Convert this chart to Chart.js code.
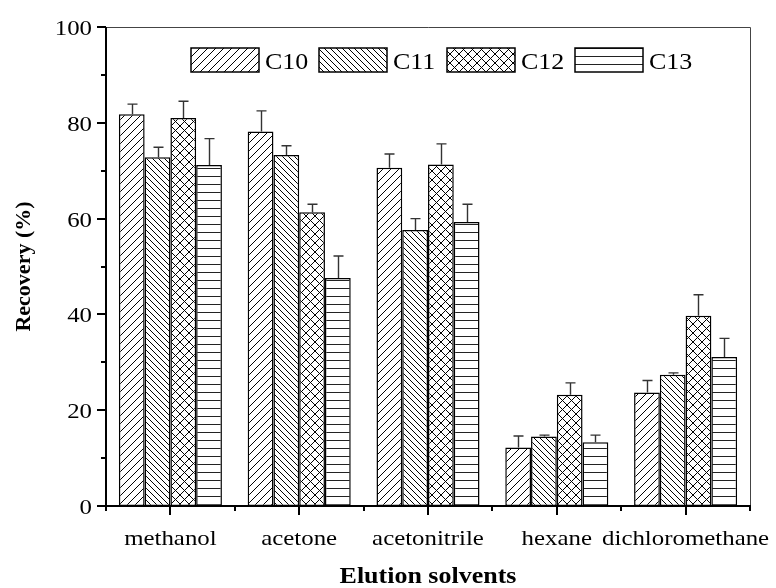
<!DOCTYPE html>
<html>
<head>
<meta charset="utf-8">
<script src="https://cdn.jsdelivr.net/npm/chart.js@4.4.1/dist/chart.umd.min.js"></script>
<style>
  html, body { margin: 0; padding: 0; background: #fff; }
  #wrap { width: 776px; height: 588px; }
</style>
</head>
<body>
<div id="wrap"><canvas id="recoveryChart" width="776" height="588"></canvas></div>
<script>
const solvents = ["methanol", "acetone", "acetonitrile", "hexane", "dichloromethane"];
const seriesNames = ["C10", "C11", "C12", "C13"];

// mean recovery (%) per solvent
const c10 = [81.8, 78.2, 70.6, 12.2, 23.7];
const c11 = [72.8, 73.3, 57.6, 14.5, 27.4];
const c12 = [81.0, 61.3, 71.3, 23.2, 39.7];
const c13 = [71.2, 47.6, 59.3, 13.3, 31.1];

// standard deviations (upper error bars only)
const c10Sd = [2.1, 4.3, 2.9, 2.4, 2.5];
const c11Sd = [2.1, 1.9, 2.4, 0.3, 0.4];
const c12Sd = [3.5, 1.7, 4.3, 2.5, 4.4];
const c13Sd = [5.5, 4.6, 3.7, 1.5, 3.9];

const yMin = 0, yMax = 100, yMajor = 20, yMinor = 10;

const FONT = "'Liberation Serif', 'Times New Roman', serif";
const STRETCH = 1.13; // text is a bit wider than it is tall

// hatch fills
function makePattern(kind) {
  const c = document.createElement("canvas");
  const s = kind === "back" ? 6 : kind === "cross" ? 9 : 8;
  c.width = s; c.height = s;
  const g = c.getContext("2d");
  g.fillStyle = "#fff";
  g.fillRect(0, 0, s, s);
  g.strokeStyle = "#000";
  g.lineWidth = 1;
  g.beginPath();
  if (kind === "fwd" || kind === "cross") {
    g.moveTo(-1, s + 1); g.lineTo(s + 1, -1);
    g.moveTo(-1, 1); g.lineTo(1, -1);
    g.moveTo(s - 1, s + 1); g.lineTo(s + 1, s - 1);
  }
  if (kind === "back" || kind === "cross") {
    g.moveTo(-1, -1); g.lineTo(s + 1, s + 1);
    g.moveTo(s - 1, -1); g.lineTo(s + 1, 1);
    g.moveTo(-1, s - 1); g.lineTo(1, s + 1);
  }
  if (kind === "horiz") {
    g.strokeStyle = "#222";
    g.moveTo(0, 0.5); g.lineTo(s, 0.5);
  }
  g.stroke();
  return g.createPattern(c, "repeat");
}

function wideText(g, text, x, y, align, font) {
  g.save();
  g.translate(x, y);
  g.scale(STRETCH, 1);
  g.font = font;
  g.textAlign = align;
  g.textBaseline = "alphabetic";
  g.fillStyle = "#000";
  g.fillText(text, 0, 0);
  g.restore();
}

const ctx = document.getElementById("recoveryChart");
const fills = [makePattern("fwd"), makePattern("back"), makePattern("cross"), makePattern("horiz")];
const values = [c10, c11, c12, c13];
const sds = [c10Sd, c11Sd, c12Sd, c13Sd];

// upper error bars with caps
const errorBars = {
  id: "errorBars",
  afterDatasetsDraw(chart) {
    const g = chart.ctx;
    const y = chart.scales.y;
    g.save();
    g.strokeStyle = "#333";
    g.lineWidth = 1.4;
    chart.data.datasets.forEach((ds, i) => {
      const meta = chart.getDatasetMeta(i);
      meta.data.forEach((bar, j) => {
        const top = y.getPixelForValue(ds.data[j] + sds[i][j]);
        const x = Math.round(bar.x) + 0.5;
        g.beginPath();
        g.moveTo(x, bar.y);
        g.lineTo(x, top);
        g.moveTo(x - 5, top);
        g.lineTo(x + 5, top);
        g.stroke();
      });
    });
    g.restore();
  }
};

// frame, tick marks, tick labels, x title and the in-plot legend
const frame = {
  id: "frame",
  afterDraw(chart) {
    const g = chart.ctx;
    const a = chart.chartArea;
    const xs = chart.scales.x, ys = chart.scales.y;
    g.save();
    g.strokeStyle = "#444";
    g.lineWidth = 1;
    g.beginPath();
    g.moveTo(a.left, a.top + 0.5); g.lineTo(a.right + 0.5, a.top + 0.5);
    g.lineTo(a.right + 0.5, a.bottom);
    g.stroke();

    g.strokeStyle = "#000";
    g.lineWidth = 2;
    g.beginPath();
    g.moveTo(a.left, a.top); g.lineTo(a.left, a.bottom); g.lineTo(a.right + 1, a.bottom);
    // y ticks
    for (let v = yMin; v <= yMax; v += yMinor) {
      const py = Math.round(ys.getPixelForValue(v));
      const len = v % yMajor === 0 ? 9 : 5;
      g.moveTo(a.left, py); g.lineTo(a.left - len, py);
    }
    // x ticks: long at categories, short at boundaries
    const n = solvents.length;
    for (let i = 0; i < n; i++) {
      const px = Math.round(xs.getPixelForValue(i));
      g.moveTo(px, a.bottom); g.lineTo(px, a.bottom + 9);
    }
    for (let i = 0; i <= n; i++) {
      const px = Math.round(xs.getPixelForValue(i - 0.5));
      g.moveTo(px, a.bottom); g.lineTo(px, a.bottom + 5);
    }
    g.stroke();

    // tick labels
    const tickFont = "22px " + FONT;
    for (let v = yMin; v <= yMax; v += yMajor) {
      wideText(g, String(v), a.left - 14, ys.getPixelForValue(v) + 8, "right", tickFont);
    }
    solvents.forEach((s, i) => {
      wideText(g, s, xs.getPixelForValue(i), a.bottom + 39, "center", tickFont);
    });
    wideText(g, "Elution solvents", (a.left + a.right) / 2, a.bottom + 77, "center", "bold 23px " + FONT);

    // legend
    const boxW = 68, boxH = 24, step = 128;
    const lx = a.left + 85, ly = a.top + 21;
    seriesNames.forEach((name, i) => {
      const x0 = lx + i * step;
      g.fillStyle = fills[i];
      g.fillRect(x0, ly, boxW, boxH);
      g.strokeStyle = "#000";
      g.lineWidth = 1.5;
      g.strokeRect(x0, ly, boxW, boxH);
      wideText(g, name, x0 + boxW + 6, ly + boxH - 3, "left", "23px " + FONT);
    });
    g.restore();
  }
};

new Chart(ctx, {
  type: "bar",
  data: {
    labels: solvents,
    datasets: seriesNames.map((name, i) => ({
      label: name,
      data: values[i],
      backgroundColor: fills[i],
      borderColor: "#000",
      borderWidth: 1.5,
      borderSkipped: false,
      categoryPercentage: 0.8,
      barPercentage: 1.0
    }))
  },
  options: {
    responsive: false,
    animation: false,
    layout: { padding: { left: 0, right: 26, top: 27, bottom: 0 } },
    plugins: { legend: { display: false }, tooltip: { enabled: false } },
    scales: {
      x: {
        offset: true,
        grid: { display: false, drawTicks: false },
        border: { display: false },
        ticks: { display: false },
        afterFit(scale) { scale.height = 82; }
      },
      y: {
        min: yMin,
        max: yMax,
        grid: { display: false, drawTicks: false },
        border: { display: false },
        ticks: { display: false, stepSize: yMinor },
        title: { display: true, text: "Recovery (%)", color: "#000", padding: { top: 11, bottom: 0 }, font: { family: FONT, size: 22, weight: "bold" } },
        afterFit(scale) { scale.width = 106; }
      }
    }
  },
  plugins: [errorBars, frame]
});
</script>
</body>
</html>
